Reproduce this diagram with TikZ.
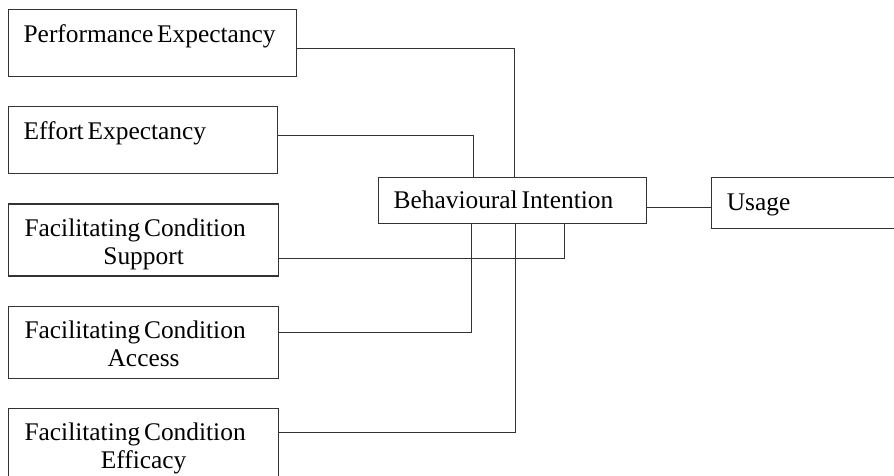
\documentclass[tikz,border=0pt]{standalone}
\usepackage{fontspec}
\setmainfont{Liberation Serif}[WordSpace=0.6]
\usetikzlibrary{positioning}

\begin{document}
\begin{tikzpicture}[
    x=1pt, y=-1pt,
    every node/.style={font=\fontsize{25.4}{28}\selectfont},
    singlebox/.style={rectangle, draw=black!80, line width=1.2pt, inner xsep=15pt, inner ysep=0pt, text width=#1, align=flush left, text height=32.5pt, text depth=34.5pt},
    dualbox/.style={rectangle, draw=black!80, line width=1.2pt, inner xsep=10pt, inner ysep=0pt, text width=250pt, align=flush center, text height=32.5pt, text depth=39.5pt},
    link/.style={draw=black!80, line width=1pt}
]
    \useasboundingbox (0,0) rectangle (894,475);
    \clip (0,0) rectangle (894,475);

    % Input boxes
    \node (pe) [singlebox=258pt, anchor=north west] at (8,9) {Performance Expectancy};
    \node (ee) [singlebox=239pt, below right=29pt and 0pt of pe.south west] {Effort Expectancy};
    \node (fcs) [dualbox, below right=29pt and 0pt of ee.south west] {Facilitating Condition\kern17pt\\Support};
    \node (fca) [dualbox, below right=29pt and 0pt of fcs.south west] {Facilitating Condition\kern17pt\\Access};
    \node (fce) [dualbox, below right=29pt and 0pt of fca.south west] {Facilitating Condition\kern17pt\\Efficacy};

    % Intention and usage
    \node (bi) [singlebox=238pt, text height=31pt, text depth=15pt, anchor=north west] at (378,177) {Behavioural Intention};
    \node (usage) [singlebox=160pt, text height=33pt, text depth=18pt, below right=0pt and 64pt of bi.north east] {Usage};

    % Links
    \draw [link] ([yshift=-5.5pt]pe.east) -| ([xshift=2pt]bi.north);
    \draw [link] ([yshift=4.5pt]ee.east) -| ([xshift=-39pt]bi.north);
    \draw [link] ([yshift=-18pt]fcs.east) -| ([xshift=52pt]bi.south);
    \draw [link] ([yshift=10pt]fca.east) -| ([xshift=-41pt]bi.south);
    \draw [link] ([yshift=12pt]fce.east) -| ([xshift=3pt]bi.south);
    \draw [link] ([yshift=-7pt]bi.east) -- ([yshift=-7pt]bi.east -| usage.west);
\end{tikzpicture}
\end{document}
